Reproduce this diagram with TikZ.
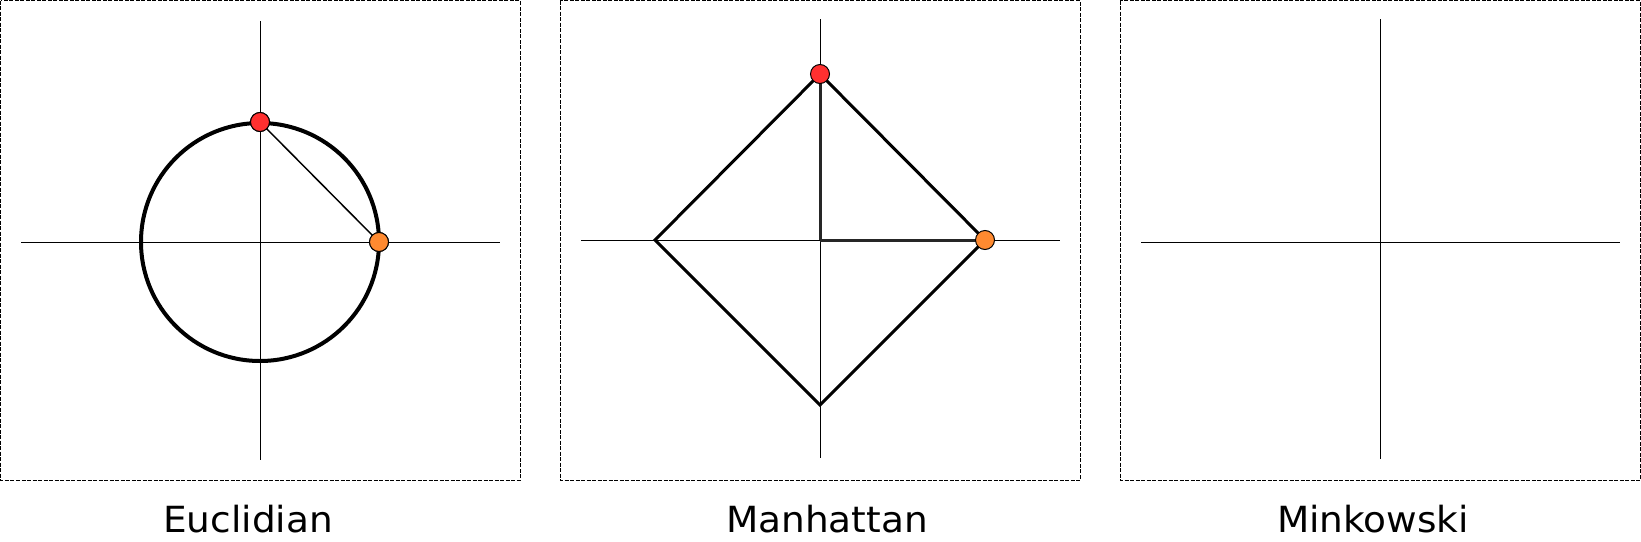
\documentclass[tikz,border=0pt]{standalone}
\usepackage{fontspec}
\setmainfont{DejaVu Sans}[FakeStretch=1.04]
\definecolor{dotred}{HTML}{FF3030}
\definecolor{dotorange}{HTML}{FF8A30}
\tikzset{
  panel/.style={draw=black, line width=0.8pt, dash pattern=on 4pt off 1.5pt},
  axis/.style={draw=black, line width=1pt},
  curve/.style={draw=black, line width=4pt},
  diam/.style={draw=black, line width=3pt, line join=miter},
  leg/.style={draw=black!85, line width=3pt},
  chord/.style={draw=black, line width=1.5pt},
  dot/.style={circle, draw=black, line width=1pt, inner sep=0pt, minimum size=19pt},
  lbl/.style={font=\fontsize{36}{40}\selectfont, anchor=base, inner sep=0pt, text depth=0pt}
}
\begin{document}
\begin{tikzpicture}[x=1pt,y=-1pt]
\useasboundingbox (0,0) rectangle (1641,541);
% frames
\draw[panel] (0.5,0.5) rectangle (520,480);
\draw[panel] (560,0.5) rectangle (1080,480);
\draw[panel] (1120,0.5) rectangle (1640,480);
% Euclidian
\coordinate (e1l) at (21,242); \coordinate (e1r) at (500,242);
\coordinate (e1t) at (260,21); \coordinate (e1b) at (260,460);
\draw[axis] (e1l) -- (e1r); \draw[axis] (e1t) -- (e1b);
\draw[curve] (260,242) circle[radius=119];
\node[dot, fill=dotred] (ered) at (260,122) {};
\node[dot, fill=dotorange] (eorange) at (379,242) {};
\draw[chord] (ered.center) -- (eorange.center);
\node[dot, fill=dotred] at (ered) {};
\node[dot, fill=dotorange] at (eorange) {};
% Manhattan
\coordinate (m1l) at (581,240); \coordinate (m1r) at (1060,240);
\coordinate (m1t) at (820,19); \coordinate (m1b) at (820,458);
\coordinate (mc) at (820,240);
\draw[axis] (m1l) -- (m1r); \draw[axis] (m1t) -- (m1b);
\coordinate (mtop) at (820,74); \coordinate (mright) at (985,240);
\coordinate (mbot) at (820,405); \coordinate (mleft) at (655,240);
\draw[leg] (mc) -- (mtop); \draw[leg] (mc) -- (mright);
\draw[diam] (mtop) -- (mright) -- (mbot) -- (mleft) -- cycle;
\node[dot, fill=dotred] (mred) at (mtop) {};
\node[dot, fill=dotorange] (morange) at (mright) {};
% Minkowski
\coordinate (k1l) at (1141,242); \coordinate (k1r) at (1620,242);
\coordinate (k1t) at (1380,19); \coordinate (k1b) at (1380,459);
\draw[axis] (k1l) -- (k1r); \draw[axis] (k1t) -- (k1b);
% labels
\node[lbl] (le) at (248,532) {Euclidian};
\node[lbl] (lm) at (827,532) {Manhattan};
\node[lbl] (lk) at (1373,532) {Minkowski};
\end{tikzpicture}
\end{document}
